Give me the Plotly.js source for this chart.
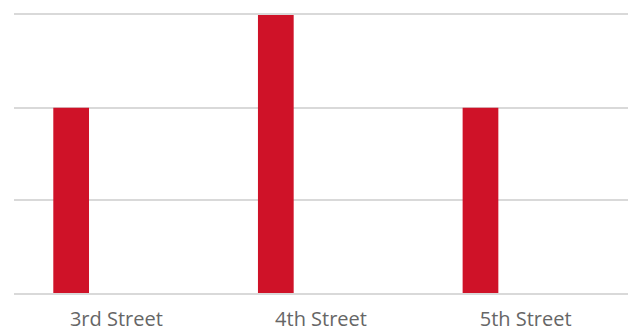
<!DOCTYPE html>
<html>
<head>
<meta charset="utf-8">
<script src="https://cdn.plot.ly/plotly-3.0.1.min.js"></script>
<style>html,body{margin:0;padding:0;background:#fff;}#chart{width:631px;height:333px;}</style>
</head>
<body>
<div id="chart"></div>
<script>
const categories = ["3rd Street", "4th Street", "5th Street"];
const values = [2, 3, 2];

const trace = {
  type: 'bar',
  x: categories,
  y: values,
  width: 0.1745,
  offset: -0.308,
  marker: {color: '#CF1228', line: {width: 0}},
  hoverinfo: 'x+y'
};

const layout = {
  width: 631,
  height: 333,
  margin: {l: 14, r: 3, t: 15, b: 40},
  paper_bgcolor: '#ffffff',
  plot_bgcolor: '#ffffff',
  showlegend: false,
  xaxis: {
    type: 'category',
    showgrid: false,
    zeroline: false,
    showline: true,
    mirror: true,
    linecolor: '#D9D9D9',
    linewidth: 2,
    ticks: 'outside',
    ticklen: 7,
    tickcolor: 'rgba(0,0,0,0)',
    tickfont: {family: 'Open Sans, sans-serif', size: 20, color: '#666666'}
  },
  yaxis: {
    range: [0, 3],
    dtick: 1,
    showgrid: true,
    gridcolor: '#D9D9D9',
    gridwidth: 2,
    zeroline: false,
    showticklabels: false,
    ticks: ''
  }
};

Plotly.newPlot('chart', [trace], layout, {displayModeBar: false, staticPlot: true});
</script>
</body>
</html>
